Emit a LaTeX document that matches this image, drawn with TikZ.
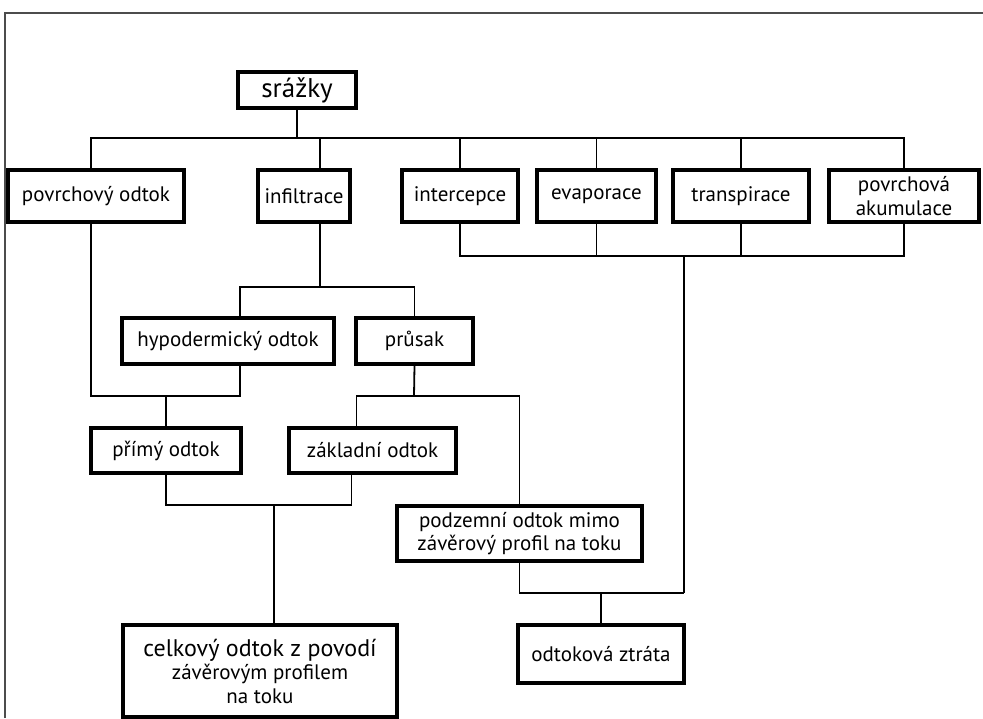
\documentclass[tikz,border=0pt]{standalone}
\usepackage{fontspec}
\setmainfont{PT Sans}
\usetikzlibrary{positioning}

\begin{document}
\begin{tikzpicture}[
    x=1pt, y=-1pt,
    box/.style={draw, rectangle, line width=3.2pt, align=center, inner sep=2pt,
                font=\fontsize{21}{23.5}\selectfont},
    link/.style={line width=1.8pt},
    frame/.style={line width=1.4pt, black!70}
]
\useasboundingbox (0,0) rectangle (983,718);

\node[box, minimum width=118pt, minimum height=36pt, font=\fontsize{27}{29}\selectfont] (srazky) at (297,90) {srážky};
\node[box, minimum width=176pt, minimum height=52pt] (povrch) at (96,196) {povrchový odtok};
\node[box, minimum width=92pt, minimum height=52pt] (infil) at (304,196) {infiltrace};
\node[box, minimum width=116pt, minimum height=52pt] (inter) at (460,196) {intercepce};
\node[box, minimum width=119pt, minimum height=52pt] (evap) at (596.5,196) {evaporace};
\node[box, minimum width=136pt, minimum height=52pt] (transp) at (741,196) {transpirace};
\node[box, minimum width=150pt, minimum height=52pt] (akum) at (904,196) {povrchová\\akumulace};
\node[box, minimum width=212pt, minimum height=46pt] (hypo) at (228,341) {hypodermický odtok};
\node[box, minimum width=117pt, minimum height=46pt] (prusak) at (414.5,341) {průsak};
\node[box, minimum width=150pt, minimum height=45pt] (primy) at (166,450.5) {přímý odtok};
\node[box, minimum width=167pt, minimum height=45pt] (zakl) at (372.5,450.5) {základní odtok};
\node[box, minimum width=245pt, minimum height=55pt] (podzem) at (519.5,533.5) {podzemní odtok mimo\\závěrový profil na toku};
\node[box, minimum width=274pt, minimum height=92pt] (celkem) at (260,671)
    {{\fontsize{24}{26}\selectfont celkový odtok z povodí}\\závěrovým profilem\\na toku};
\node[box, minimum width=166pt, minimum height=58pt] (ztrata) at (601,654) {odtoková ztráta};

\coordinate (rain) at (297,138);
\coordinate (evapbus) at (684,256);
\coordinate (infbus) at (320,287);
\coordinate (direct) at (166,396);
\coordinate (seep) at (414,396);
\coordinate (total) at (274,505);
\coordinate (loss) at (601,593);

% first split below the rain box
\draw[link] (srazky.south) -- (rain);
\draw[link] ([xshift=-5pt]povrch.north) |- (rain) -| (akum.north);
\foreach \n/\dx in {infil/16, inter/0, evap/0, transp/0}
    \draw[link] ([xshift=\dx pt]\n.north) -- ([xshift=\dx pt]\n.north |- rain);

% losses on the right
\draw[link] (inter.south) |- (akum.south |- evapbus) -- (akum.south);
\draw[link] (evap.south) -- (evap.south |- evapbus);
\draw[link] (transp.south) -- (transp.south |- evapbus);
\draw[link] (evapbus) -- (evapbus |- loss);
\draw[link] (podzem.south) |- (evapbus |- loss);
\draw[link] (loss) -- (ztrata.north);

\draw[link] ([xshift=16pt]infil.south) -- (infbus);
\draw[link] ([xshift=12pt]hypo.north) |- (prusak.north |- infbus) -- (prusak.north);

\draw[link] ([xshift=-5pt]povrch.south) |- ([xshift=12pt]hypo.south |- direct) -- ([xshift=12pt]hypo.south);
\draw[link] (direct) -- (primy.north);

\draw[link] (prusak.south) -- (seep);
\draw[link] ([xshift=-16pt]zakl.north) |- (podzem.north |- seep) -- (podzem.north);

\draw[link] (primy.south) |- ([xshift=-21pt]zakl.south |- total) -- ([xshift=-21pt]zakl.south);
\draw[link] (total) -- (total |- celkem.north);

\draw[frame] (5,718) -- (5,13) -- (983,13);

\end{tikzpicture}
\end{document}
